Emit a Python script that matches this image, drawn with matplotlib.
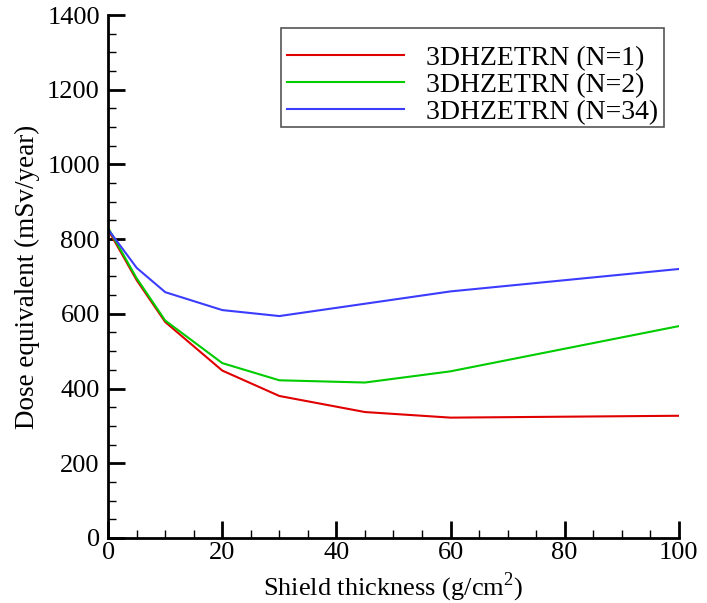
import matplotlib.pyplot as plt
from matplotlib.patches import Rectangle
from matplotlib.ticker import MultipleLocator

plt.rcParams['font.family'] = ['Liberation Serif', 'DejaVu Serif']
plt.rcParams['mathtext.fontset'] = 'custom'
plt.rcParams['mathtext.rm'] = 'Liberation Serif'

# shield thickness (g/cm^2) and dose equivalent (mSv/year)
x_n1 = [0, 5, 10, 20, 30, 45, 60, 100]
dose_n1 = [825, 690, 578, 448, 380, 337, 322, 327]

x_n2 = [0, 5, 10, 20, 30, 45, 60, 100]
dose_n2 = [830, 695, 582, 468, 422, 416, 446, 567]

x_n34 = [0, 5, 10, 20, 30, 60, 100]
dose_n34 = [826, 723, 658, 610, 594, 660, 720]

labels = ['3DHZETRN (N=1)', '3DHZETRN (N=2)', '3DHZETRN (N=34)']

fig = plt.figure(figsize=(7.07, 6.03), dpi=100)
ax = fig.add_axes([0.153, 0.108, 0.807, 0.867])

ax.plot(x_n1, dose_n1, color='#e00000', lw=1.5, label=labels[0])
ax.plot(x_n2, dose_n2, color='#00cc00', lw=1.5, label=labels[1])
ax.plot(x_n34, dose_n34, color='#3c3cff', lw=1.5, label=labels[2])

ax.set_xlim(0, 100)
ax.set_ylim(0, 1400)
ax.xaxis.set_major_locator(MultipleLocator(20))
ax.xaxis.set_minor_locator(MultipleLocator(5))
ax.yaxis.set_major_locator(MultipleLocator(200))
ax.yaxis.set_minor_locator(MultipleLocator(50))

for side in ['top', 'right']:
    ax.spines[side].set_visible(False)
for side in ['left', 'bottom']:
    ax.spines[side].set_linewidth(2)

ax.tick_params(which='major', direction='in', length=12, width=2, labelsize=19)
ax.tick_params(which='minor', direction='in', length=6, width=1)
ax.tick_params(axis='x', pad=3)
ax.tick_params(axis='y', pad=6)

ax.set_xlabel('Shield thickness (g/cm$^2$)', fontsize=19, labelpad=5)
ax.set_ylabel('Dose equivalent (mSv/year)', fontsize=19.5, labelpad=5)

# legend entries without frame, box drawn separately
leg = ax.legend(loc='upper right', bbox_to_anchor=(0.981, 0.960), fontsize=20,
                frameon=False, handlelength=4.2, handletextpad=0.8,
                labelspacing=0.05, borderpad=0.35, borderaxespad=0)
ax.add_patch(Rectangle((0.303, 0.786), 0.671, 0.189, transform=ax.transAxes,
                       fill=False, edgecolor='#555555', lw=1.2, clip_on=False,
                       zorder=5))

fig.savefig('out.png', dpi=100)
